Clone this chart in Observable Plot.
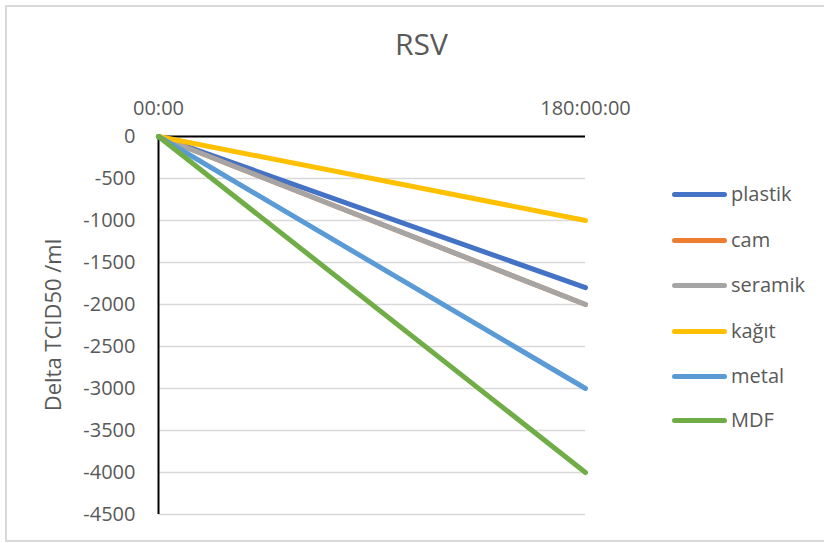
<!DOCTYPE html>
<html>
<head>
<meta charset="utf-8">
<script src="https://cdn.jsdelivr.net/npm/d3@7"></script>
<script src="https://cdn.jsdelivr.net/npm/@observablehq/plot@0.6"></script>
<style>
  html, body { margin: 0; padding: 0; background: #fff; }
  #wrap { position: relative; width: 824px; height: 543px; overflow: hidden; font-family: "Open Sans", sans-serif; color: #595959; }
  #border { position: absolute; left: 5px; top: 5px; width: 830px; height: 537px; border: 2px solid #d9d9d9; box-sizing: border-box; }
  #title { position: absolute; left: 0; width: 843px; top: 24px; text-align: center; font-size: 30px; line-height: 40px; }
  #ylabel { position: absolute; left: 52px; top: 325px; transform: translate(-50%, -50%) rotate(-90deg); white-space: nowrap; font-size: 22px; line-height: 28px; }
  #legend { position: absolute; left: 672px; top: 0; }
  .item { position: absolute; left: 0; display: flex; align-items: center; white-space: nowrap; font-size: 20px; line-height: 26px; }
  .sw { width: 55px; height: 5px; border-radius: 3px; margin-right: 4px; }
  #chart { position: absolute; left: 0; top: 0; }
</style>
</head>
<body>
<div id="wrap">
  <div id="border"></div>
  <div id="chart"></div>
  <div id="title">RSV</div>
  <div id="ylabel">Delta TCID50 /ml</div>
  <div id="legend"></div>
</div>
<script>
const series = ["plastik", "cam", "seramik", "kağıt", "metal", "MDF"];
const colors = ["#4472C4", "#ED7D31", "#A5A5A5", "#FFC000", "#5B9BD5", "#70AD47"];
const times = [0, 180];
const timeLabels = ["00:00", "180:00:00"];
const plastik = [0, -1800];
const cam = [0, -2000];
const seramik = [0, -2000];
const kagit = [0, -1000];
const metal = [0, -3000];
const MDF = [0, -4000];
const yTicks = [0, -500, -1000, -1500, -2000, -2500, -3000, -3500, -4000, -4500];

const valuesBySeries = [plastik, cam, seramik, kagit, metal, MDF];
const data = [];
series.forEach((s, i) => times.forEach((t, j) => data.push({series: s, t, v: valuesBySeries[i][j]})));

const plot = Plot.plot({
  width: 824,
  height: 543,
  marginLeft: 158,
  marginRight: 239,
  marginTop: 136,
  marginBottom: 29,
  style: { fontFamily: "Open Sans, sans-serif", fontSize: "20px", color: "#595959", background: "transparent", overflow: "visible" },
  x: { domain: [0, 180] },
  y: { domain: [-4500, 0] },
  color: { domain: series, range: colors },
  marks: [
    Plot.gridY(yTicks, { stroke: "#d9d9d9", strokeOpacity: 1, strokeWidth: 1.5 }),
    Plot.axisY(yTicks, { tickSize: 0, tickPadding: 23, fontSize: 20, fill: "#595959", label: null, tickFormat: d => String(d) }),
    Plot.axisX(times, { anchor: "top", tickSize: 0, tickPadding: 22, fontSize: 20, fill: "#595959", label: null, tickFormat: d => timeLabels[times.indexOf(d)] }),
    Plot.ruleY([0], { stroke: "black", strokeWidth: 2 }),
    Plot.ruleX([0], { stroke: "black", strokeWidth: 2 }),
    Plot.line(data, { x: "t", y: "v", z: "series", stroke: "series", strokeWidth: 5, strokeLinecap: "round" })
  ]
});
document.getElementById("chart").appendChild(plot);

const legend = document.getElementById("legend");
const rowY = [195, 241, 286, 332, 377, 421];
series.forEach((s, i) => {
  const el = document.createElement("div");
  el.className = "item";
  el.style.top = (rowY[i] - 14) + "px";
  el.innerHTML = `<div class="sw" style="background:${colors[i]}"></div><span>${s}</span>`;
  legend.appendChild(el);
});
</script>
</body>
</html>
